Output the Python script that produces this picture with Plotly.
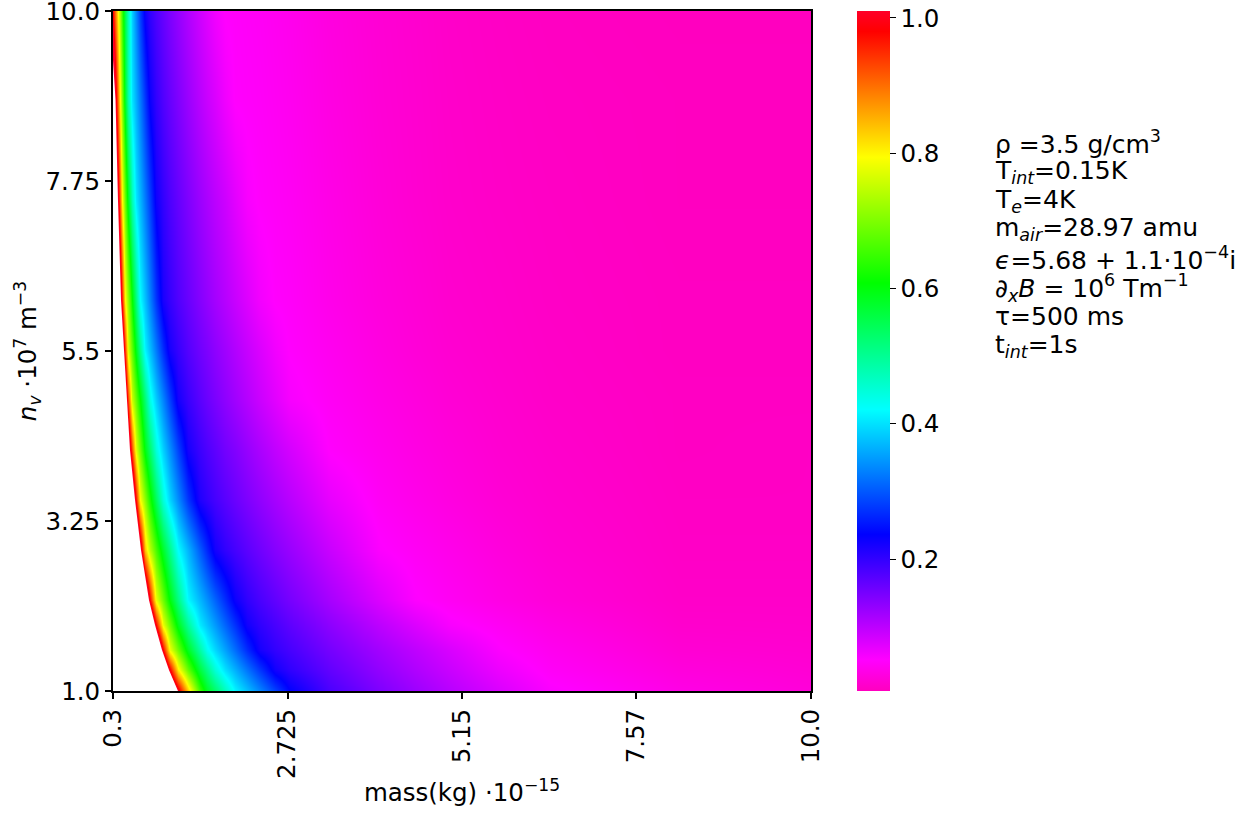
import plotly.graph_objects as go

# mass (1e-15 kg), column positions of the values
mass = [0.30, 0.342, 0.383, 0.425, 0.467, 0.508, 0.564, 0.620, 0.675, 0.745, 0.814, 0.898, 0.995,
        1.092, 1.203, 1.342, 1.509, 1.606, 1.717, 1.856, 1.995, 2.162, 2.343, 2.551, 2.760,
        3.316, 4.010, 4.497, 4.983, 5.678, 6.373, 8.179, 10.0]
# n_v (1e7 m^-3), row positions
nv = [1.0, 1.278, 1.543, 1.874, 2.204, 2.866, 3.528, 4.190, 4.851, 5.513, 6.175, 7.499, 8.821, 10.0]

row_00 = [1.5]*11 + [1.41, 1.28, 1.15, 1.01, .83, .651, .583, .533, .471, .415, .376, .333, .284, .236, .182, .145, .123, .103, .078, .055, .033, .024]
row_01 = [1.5]*11 + [1.32, 1.15, .986, .806, .682, .563, .51, .45, .4, .364, .321, .275, .224, .202, .165, .13, .109, .09, .064, .046, .026, .02]
row_02 = [1.5]*10 + [1.38, 1.195, .98, .782, .69, .584, .487, .43, .393, .354, .315, .267, .221, .2, .185, .151, .118, .098, .079, .053, .04, .02, .017]
row_03 = [1.5]*9 + [1.32, 1.165, .979, .781, .688, .589, .496, .406, .379, .348, .309, .271, .224, .202, .184, .168, .134, .099, .077, .056, .043, .032, .015, .014]
row_04 = [1.5]*8 + [1.33, 1.15, .974, .781, .688, .598, .514, .417, .369, .341, .308, .268, .228, .202, .183, .166, .15, .115, .077, .053, .043, .032, .024, .012, .012]
row_05 = [1.5]*6 + [1.40, 1.226, 1.053, .837, .741, .661, .577, .504, .421, .367, .301, .263, .222, .201, .186, .17, .155, .139, .125, .09, .053, .044, .036, .026, .019, .01, .01]
row_06 = [1.5]*4 + [1.44, 1.31, 1.14, .967, .794, .71, .625, .541, .448, .389, .338, .274, .214, .2, .186, .172, .159, .145, .131, .116, .102, .068, .044, .036, .029, .021, .016, .009, .009]
row_07 = [1.5]*3 + [1.356, 1.226, 1.096, .924, .773, .69, .595, .527, .447, .387, .339, .284, .221, .193, .18, .168, .153, .142, .127, .112, .096, .082, .05, .038, .031, .025, .018, .014, .008, .009]
row_08 = [1.5, 1.5, 1.37, 1.235, 1.10, .938, .757, .683, .608, .523, .438, .384, .332, .28, .222, .195, .171, .159, .147, .133, .12, .105, .089, .073, .057, .044, .033, .027, .021, .016, .012, .008, .008]
row_09 = [1.5, 1.37, 1.235, 1.10, .938, .771, .678, .587, .504, .413, .373, .324, .268, .219, .197, .175, .155, .145, .133, .12, .107, .092, .077, .061, .05, .04, .029, .023, .018, .014, .011, .007, .007]
row_10 = [1.36, 1.24, 1.12, .956, .794, .714, .608, .514, .421, .375, .329, .273, .218, .197, .178, .16, .14, .129, .117, .104, .091, .076, .06, .05, .047, .036, .026, .021, .016, .013, .01, .007, .007]
row_11 = [1.28, 1.118, .956, .794, .682, .581, .474, .403, .368, .324, .28, .226, .2, .18, .163, .144, .123, .112, .1, .087, .072, .056, .049, .046, .043, .033, .023, .018, .014, .011, .009, .006, .006]
row_12 = [1.13, .986, .84, .701, .577, .483, .402, .363, .324, .275, .228, .2, .178, .161, .144, .124, .102, .09, .078, .062, .05, .048, .046, .043, .04, .03, .021, .017, .013, .01, .008, .006, .006]
row_13 = [.97, .866, .757, .645, .551, .474, .385, .332, .279, .226, .2, .18, .162, .145, .128, .108, .086, .074, .061, .05, .048, .046, .044, .041, .038, .028, .02, .016, .012, .009, .007, .005, .005]
fraction = [row_00, row_01, row_02, row_03, row_04, row_05, row_06, row_07,
            row_08, row_09, row_10, row_11, row_12, row_13]

# where the values pass the top of the scale: left of this the picture is blank
limit_nv = [1.0, 1.278, 1.543, 1.874, 2.204, 2.866, 3.528, 4.190, 4.851, 5.513, 6.175, 7.499, 8.821, 9.351]
limit_mass = [1.203, 1.078, .981, .884, .800, .689, .606, .536, .495, .453, .411, .369, .335, .30]

x_ticks = [0.3, 2.725, 5.15, 7.57, 10.0]
x_labels = ["0.3", "2.725", "5.15", "7.57", "10.0"]
y_ticks = [1.0, 3.25, 5.5, 7.75, 10.0]
y_labels = ["1.0", "3.25", "5.5", "7.75", "10.0"]
bar_ticks = [0.2, 0.4, 0.6, 0.8, 1.0]
bar_labels = ["0.2", "0.4", "0.6", "0.8", "1.0"]

notes = [
    "ρ =3.5 g/cm<sup>3</sup>",
    "T<sub><i>int</i></sub>=0.15K",
    "T<sub><i>e</i></sub>=4K",
    "m<sub><i>air</i></sub>=28.97 amu",
    "<i>ϵ</i>=5.68 + 1.1·10<sup>−4</sup>i",
    "<i>∂<sub>x</sub>B</i> = 10<sup>6</sup> Tm<sup>−1</sup>",
    "τ=500 ms",
    "t<sub><i>int</i></sub>=1s",
]
note_y = [143, 172, 201, 229, 258, 288, 317, 346]

rainbow = [[0, "#ff00bf"], [.046, "#ff00ff"], [.23, "#0000ff"], [.414, "#00ffff"],
           [.6, "#00ff00"], [.785, "#ffff00"], [.97, "#ff0000"], [1, "#ff0029"]]

FONT = "DejaVu Sans"
W, H = 1255, 814
L, R, T, B = 113, 811, 11, 691
FS = 24.5

fig = go.Figure()
fig.add_trace(go.Heatmap(
    x=mass, y=nv, z=fraction, zmin=0.005, zmax=1.0103, colorscale=rainbow, zsmooth="best",
    hoverinfo="skip",
    colorbar=dict(
        x=(857 - L) / (R - L), xanchor="left", xpad=0, ypad=0, y=0.5, yanchor="middle",
        len=1, lenmode="fraction", thickness=33, thicknessmode="pixels", outlinewidth=0,
        ticks="outside", ticklen=6, tickwidth=1, tickcolor="black",
        tickvals=bar_ticks, ticktext=bar_labels, ticklabeloverflow="allow",
        tickfont=dict(family=FONT, size=FS, color="black"),
    ),
))
fig.add_trace(go.Scatter(
    x=[0.30] + limit_mass + [0.30], y=[1.0] + limit_nv + [1.0],
    mode="lines", fill="toself", fillcolor="white", line=dict(width=0),
    showlegend=False, hoverinfo="skip",
))

axis = dict(showline=True, mirror=True, linewidth=2, linecolor="black", ticks="outside", ticklen=6,
            tickwidth=1.5, tickcolor="black", showgrid=False, zeroline=False, ticklabeloverflow="allow",
            tickfont=dict(family=FONT, size=FS, color="black"))
fig.update_xaxes(range=[0.3, 10.0], tickmode="array", tickvals=x_ticks, ticktext=x_labels, tickangle=-90,
                 title=dict(text="mass(kg) ·10<sup>−15</sup>", font=dict(family=FONT, size=FS, color="black"), standoff=6),
                 **axis)
fig.update_yaxes(range=[1.0, 10.0], tickmode="array", tickvals=y_ticks, ticktext=y_labels,
                 title=dict(text="<i>n<sub>v</sub></i> ·10<sup>7</sup> m<sup>−3</sup>", font=dict(family=FONT, size=FS, color="black"), standoff=2),
                 **axis)

for text, yy in zip(notes, note_y):
    fig.add_annotation(text=text, xref="paper", yref="paper", x=(996 - L) / (R - L), y=(B - yy) / (B - T),
                       xanchor="left", yanchor="middle", showarrow=False, align="left", xshift=-3,
                       font=dict(family=FONT, size=25, color="black"))

fig.update_layout(width=W, height=H, autosize=False, paper_bgcolor="white", plot_bgcolor="white",
                  margin=dict(l=L, r=W - R, t=T, b=H - B, autoexpand=False), showlegend=False)
fig.write_html("out.html", config={"displayModeBar": False}, post_script="document.body.style.margin='0';")
